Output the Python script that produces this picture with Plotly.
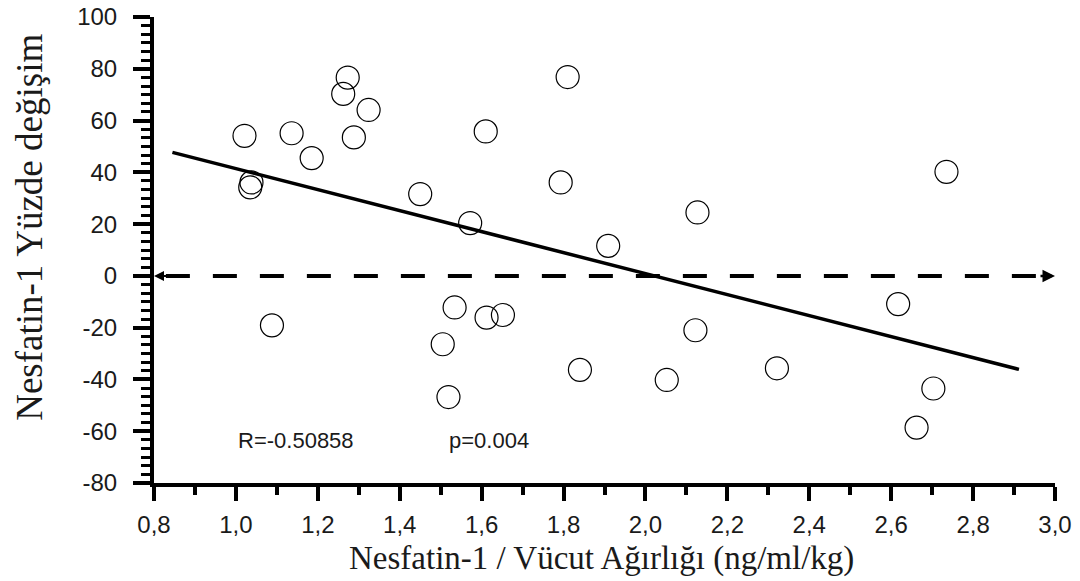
import plotly.graph_objects as go

# Data
x_vals = [1.021, 1.035, 1.038, 1.088, 1.136, 1.185, 1.262, 1.273, 1.288, 1.324,
          1.450, 1.505, 1.519, 1.534, 1.572, 1.610, 1.612, 1.652, 1.793, 1.810,
          1.840, 1.909, 2.052, 2.122, 2.127, 2.321, 2.617, 2.662, 2.703, 2.735]
y_vals = [54.1, 34.2, 36.1, -19.1, 55.1, 45.5, 70.3, 76.6, 53.5, 64.1,
          31.6, -26.4, -46.8, -12.2, 20.4, 55.8, -16.1, -15.1, 36.1, 76.8,
          -36.3, 11.6, -40.2, -21.0, 24.5, -35.7, -10.9, -58.6, -43.5, 40.2]

fit_x = [0.845, 2.912]
fit_y = [47.7, -36.1]

zero_x = [0.829, 2.993]
zero_y = [0, 0]

xtick_vals = [0.8, 1.0, 1.2, 1.4, 1.6, 1.8, 2.0, 2.2, 2.4, 2.6, 2.8, 3.0]
xtick_text = ["0,8", "1,0", "1,2", "1,4", "1,6", "1,8", "2,0", "2,2", "2,4", "2,6", "2,8", "3,0"]
ytick_vals = [-80, -60, -40, -20, 0, 20, 40, 60, 80, 100]
ytick_text = ["-80", "-60", "-40", "-20", "0", "20", "40", "60", "80", "100"]

stat_r = "R=-0.50858"
stat_p = "p=0.004"
x_title = "Nesfatin-1 / Vücut Ağırlığı (ng/ml/kg)"
y_title = "Nesfatin-1 Yüzde değişim"

fig = go.Figure()

fig.add_trace(go.Scatter(
    x=zero_x, y=zero_y, mode="lines",
    line=dict(color="black", width=4, dash="24px,23px"),
    hoverinfo="skip", showlegend=False))

fig.add_trace(go.Scatter(
    x=fit_x, y=fit_y, mode="lines",
    line=dict(color="black", width=3.5),
    hoverinfo="skip", showlegend=False))

fig.add_trace(go.Scatter(
    x=x_vals, y=y_vals, mode="markers",
    marker=dict(symbol="circle-open", size=23, color="black", line=dict(width=1.2, color="black")),
    showlegend=False))

tick_font = dict(family="Liberation Sans, Arial", size=24, color="#1a1a1a")

fig.update_xaxes(
    range=[0.8, 3.0], showgrid=False, zeroline=False, automargin=False,
    showline=True, linecolor="black", linewidth=4,
    ticks="outside", ticklen=14, tickwidth=4, tickcolor="black",
    tickvals=xtick_vals, ticktext=xtick_text, tickfont=tick_font,
    ticklabelstandoff=3, ticklabeloverflow="allow",
    minor=dict(ticks="outside", ticklen=8, tickwidth=4, tickcolor="black", dtick=0.1, showgrid=False),
)
fig.update_yaxes(
    range=[-80, 100], showgrid=False, zeroline=False, automargin=False,
    showline=True, linecolor="black", linewidth=4,
    ticks="outside", ticklen=17, tickwidth=4, tickcolor="black",
    tickvals=ytick_vals, ticktext=ytick_text, tickfont=tick_font,
    ticklabelstandoff=11, ticklabeloverflow="allow",
    minor=dict(ticks="outside", ticklen=9, tickwidth=3, tickcolor="black", dtick=10/3, showgrid=False),
)

annotations = [
    dict(x=1.0, y=-63.5, xref="x", yref="y", text=stat_r, showarrow=False,
         xanchor="left", yanchor="middle",
         font=dict(family="Liberation Sans, Arial", size=22, color="#1a1a1a")),
    dict(x=1.515, y=-63.5, xref="x", yref="y", text=stat_p, showarrow=False,
         xanchor="left", yanchor="middle",
         font=dict(family="Liberation Sans, Arial", size=22, color="#1a1a1a")),
    dict(x=0.497, y=-0.161, xref="paper", yref="paper", text=x_title, showarrow=False,
         xanchor="center", yanchor="middle",
         font=dict(family="Liberation Serif, Times New Roman", size=33, color="#1a1a1a")),
    dict(x=-0.138, y=0.549, xref="paper", yref="paper", text=y_title, showarrow=False,
         textangle=-90, xanchor="center", yanchor="middle",
         font=dict(family="Liberation Serif, Times New Roman", size=37, color="#1a1a1a")),
    # arrowheads at the ends of the dashed zero line
    dict(x=0.8, y=0, xref="x", yref="y", ax=14, ay=0, axref="pixel", ayref="pixel",
         text="", showarrow=True, arrowhead=2, arrowsize=1, arrowwidth=2, arrowcolor="black"),
    dict(x=3.0, y=0, xref="x", yref="y", ax=-16, ay=0, axref="pixel", ayref="pixel",
         text="", showarrow=True, arrowhead=2, arrowsize=1, arrowwidth=2.5, arrowcolor="black"),
]

fig.update_layout(
    width=1080, height=581,
    margin=dict(l=154, r=25, t=17, b=98),
    plot_bgcolor="white", paper_bgcolor="white",
    annotations=annotations,
)

# Remove the default 8px body margin so the figure sits at the window's top-left corner.
fig.write_html("out.html",
               config={"displayModeBar": False},
               post_script="document.body.style.margin='0';document.body.style.overflow='hidden';")
